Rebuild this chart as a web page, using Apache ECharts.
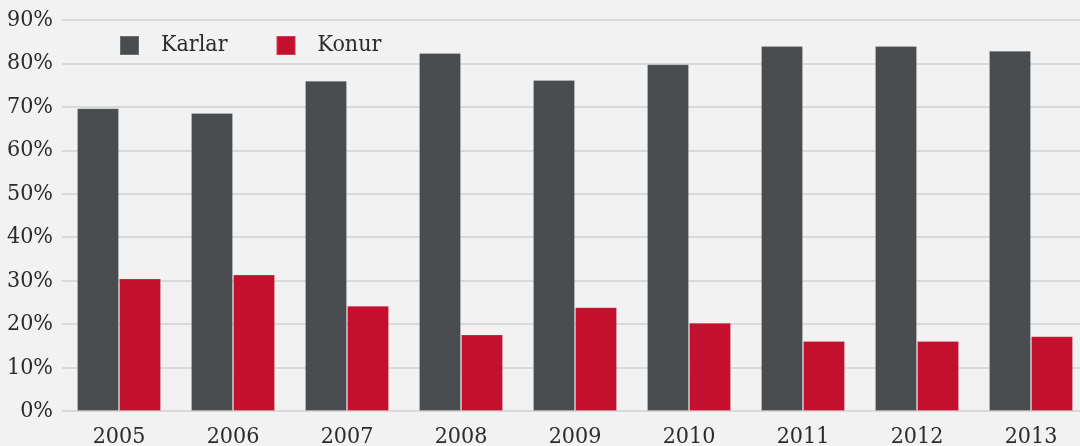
<!DOCTYPE html>
<html>
<head>
<meta charset="utf-8">
<script src="https://cdn.jsdelivr.net/npm/echarts@6/dist/echarts.min.js"></script>
<style>
  html, body { margin: 0; padding: 0; background: #f2f2f2; }
  #chart { width: 1080px; height: 446px; }
</style>
</head>
<body>
<div id="chart"></div>
<script>
const years = ["2005", "2006", "2007", "2008", "2009", "2010", "2011", "2012", "2013"];
const karlar = [69.7, 68.6, 76.0, 82.4, 76.2, 79.8, 84.0, 84.0, 82.9];
const konur = [30.5, 31.4, 24.2, 17.6, 23.9, 20.3, 16.1, 16.1, 17.2];
const seriesNames = ["Karlar", "Konur"];
const seriesColors = ["#4a4d4f", "#c3102e"];

const font = "'DejaVu Serif Condensed', 'DejaVu Serif', serif";
const textColor = "#2b2b2b";

const chart = echarts.init(document.getElementById("chart"));
chart.setOption({
    backgroundColor: "#f2f2f2",
    animation: false,
    // plot runs a little past the right edge, as in the original
    grid: { left: 62, width: 1026, top: 20, bottom: 35, outerBoundsMode: "none" },
    legend: {
        left: 119,
        top: 34,
        padding: 0,
        itemWidth: 19,
        itemHeight: 19,
        itemGap: 48,
        icon: "rect",
        data: seriesNames,
        textStyle: { fontFamily: font, fontSize: 23, lineHeight: 19, color: textColor, padding: [0, 0, 0, 17] }
    },
    xAxis: {
        type: "category",
        data: years,
        axisLine: { show: false },
        axisTick: { show: false },
        axisLabel: { fontFamily: font, fontSize: 23, color: textColor, margin: 15 }
    },
    yAxis: {
        type: "value",
        min: 0,
        max: 90,
        interval: 10,
        axisLine: { show: false },
        axisTick: { show: false },
        axisLabel: {
            fontFamily: font, fontSize: 23, color: textColor, margin: 9,
            formatter: v => v + "%"
        },
        splitLine: { lineStyle: { color: "#d9d9d9", width: 2 } }
    },
    series: seriesNames.map((name, i) => ({
        name,
        type: "bar",
        data: i === 0 ? karlar : konur,
        barGap: "0%",
        barCategoryGap: "26.3%",
        itemStyle: { color: seriesColors[i], borderColor: "rgba(255,255,255,0.18)", borderWidth: 1 }
    }))
});
</script>
</body>
</html>
